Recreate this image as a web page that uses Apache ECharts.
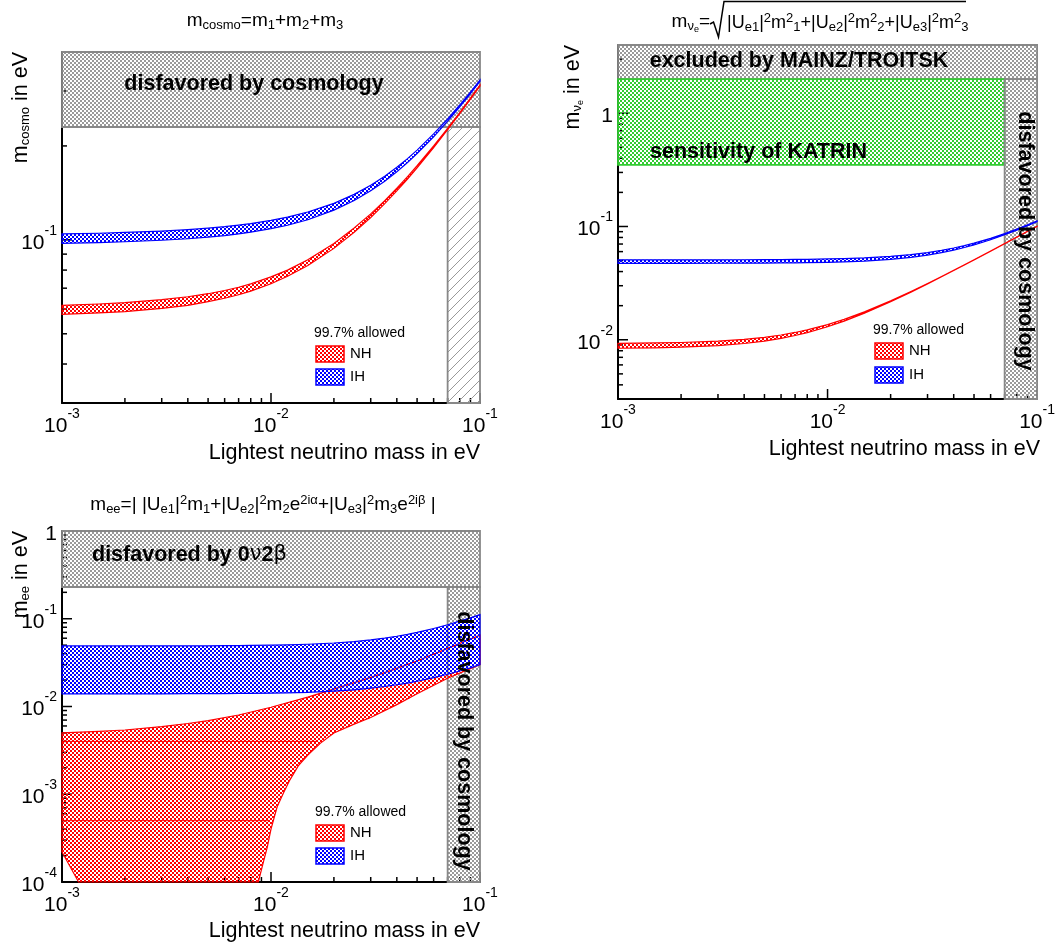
<!DOCTYPE html>
<html><head><meta charset="utf-8">
<script src="https://cdn.jsdelivr.net/npm/echarts@6/dist/echarts.min.js"></script>
<style>html,body{margin:0;padding:0;background:#fff}#c{width:1058px;height:950px}</style>
</head><body><div id="c"></div>
<script>
// ---------------- data ----------------
const xRange = [1e-3, 1e-1];
const yCosmoRange = [0.03, 0.4];
const yBetaRange = [0.003, 4];
const yEeRange = [1e-4, 1];

const cosmoLimit = 0.23;      // disfavored by cosmology (sum of masses)
const lightestLimit = 0.07;   // lightest mass disfavored by cosmology
const mainzLimit = 2;         // MAINZ/TROITSK
const katrinSens = 0.35;      // KATRIN sensitivity
const zeroNuLimit = 0.23;     // 0v2b limit

const mLight = [0.001,0.0015,0.002,0.003,0.004,0.005,0.006,0.007,0.008,0.01,0.012,0.015,0.02,0.025,0.03,0.035,0.04,0.045,0.05,0.06,0.07,0.08,0.09,0.1];

const cosmoNHLow  = [0.0577,0.0583,0.0589,0.0603,0.0617,0.0634,0.0650,0.0667,0.0685,0.0723,0.0764,0.0827,0.0939,0.1057,0.1179,0.1306,0.1436,0.1567,0.1702,0.1975,0.2255,0.2538,0.2824,0.3113];
const cosmoNHHigh = [0.0617,0.0623,0.0629,0.0643,0.0657,0.0672,0.0688,0.0705,0.0723,0.0761,0.0800,0.0863,0.0973,0.1091,0.1211,0.1336,0.1464,0.1595,0.1728,0.1999,0.2277,0.2558,0.2844,0.3131];
const cosmoIHLow  = [0.0975,0.0980,0.0986,0.0997,0.1008,0.1020,0.1032,0.1045,0.1058,0.1086,0.1114,0.1160,0.1245,0.1337,0.1436,0.1542,0.1654,0.1769,0.1889,0.2139,0.2400,0.2669,0.2942,0.3220];
const cosmoIHHigh = [0.1045,0.1050,0.1056,0.1067,0.1078,0.1090,0.1102,0.1115,0.1128,0.1154,0.1182,0.1228,0.1309,0.1399,0.1496,0.1600,0.1708,0.1821,0.1939,0.2185,0.2440,0.2705,0.2976,0.3252];

const betaNHLow  = [0.00842,0.00849,0.00860,0.00888,0.00927,0.00973,0.01028,0.01090,0.01157,0.01303,0.01462,0.01717,0.02167,0.02635,0.03115,0.03598,0.04086,0.04575,0.05067,0.06054,0.07045,0.08038,0.09033,0.10029];
const betaNHHigh = [0.00930,0.00937,0.00946,0.00972,0.01007,0.01051,0.01102,0.01160,0.01223,0.01361,0.01514,0.01761,0.02203,0.02665,0.03139,0.03620,0.04106,0.04595,0.05087,0.06074,0.07065,0.08058,0.09053,0.10049];
const betaIHLow  = [0.04727,0.04729,0.04730,0.04735,0.04742,0.04751,0.04764,0.04776,0.04793,0.04830,0.04875,0.04954,0.05132,0.05345,0.05592,0.05880,0.06191,0.06524,0.06879,0.07636,0.08444,0.09290,0.10164,0.11064];
const betaIHHigh = [0.05073,0.05075,0.05076,0.05081,0.05088,0.05097,0.05108,0.05120,0.05135,0.05170,0.05213,0.05286,0.05452,0.05655,0.05888,0.06162,0.06459,0.06780,0.07121,0.07856,0.08644,0.09472,0.10330,0.11216];

const eeIHLow  = [0.0139,0.0139,0.0139,0.0139,0.0140,0.0140,0.0140,0.0141,0.0141,0.0142,0.0143,0.0145,0.0150,0.0155,0.0162,0.0169,0.0177,0.0185,0.0194,0.0213,0.0233,0.0254,0.0276,0.0300];
const eeIHHigh = [0.0490,0.0490,0.0490,0.0491,0.0492,0.0492,0.0494,0.0495,0.0496,0.0500,0.0504,0.0512,0.0529,0.0550,0.0574,0.0602,0.0632,0.0665,0.0700,0.0775,0.0854,0.0938,0.1025,0.1114];

const eeNHUpperX = [0.001,0.0015,0.002,0.003,0.004,0.005,0.007,0.01,0.015,0.02,0.03,0.04,0.05,0.07,0.1];
const eeNHUpper  = [0.0050,0.0052,0.0054,0.0059,0.0064,0.0069,0.0080,0.0098,0.0128,0.0158,0.0215,0.0272,0.033,0.046,0.065];
const eeNHLowerX = [0.001,0.0012,0.0087,0.0092,0.0096,0.01,0.0107,0.0115,0.0123,0.0135,0.015,0.0172,0.02,0.025,0.03,0.04,0.05,0.07,0.1];
const eeNHLower  = [2.2e-4,1e-4,1e-4,1.7e-4,2.5e-4,4e-4,7.2e-4,1.05e-3,1.45e-3,2.1e-3,2.8e-3,3.8e-3,5.0e-3,6.3e-3,7.5e-3,0.0105,0.014,0.021,0.030];
// inner polygon edges of the NH region visible in the original
const eeNHEdgeX = [[0.001, 0.0168], [0.001, 0.00975]];
const eeNHEdgeY = [[0.004, 0.004], [5e-4, 5e-4]];

const xMajorTicks = [1e-3,1e-2,1e-1];
const xMinorTicks = [2e-3,3e-3,4e-3,5e-3,6e-3,7e-3,8e-3,9e-3,2e-2,3e-2,4e-2,5e-2,6e-2,7e-2,8e-2,9e-2];
const yCosmoMajor = [0.1];
const yCosmoMinor = [0.04,0.05,0.06,0.07,0.08,0.09,0.2,0.3];
const yBetaMajor = [0.01,0.1,1];
const yBetaMinor = [0.004,0.005,0.006,0.007,0.008,0.009,0.02,0.03,0.04,0.05,0.06,0.07,0.08,0.09,0.2,0.3,0.4,0.5,0.6,0.7,0.8,0.9,2,3];
const yEeMajor = [1e-4,1e-3,1e-2,1e-1,1];
const yEeMinor = [2e-4,3e-4,4e-4,5e-4,6e-4,7e-4,8e-4,9e-4,2e-3,3e-3,4e-3,5e-3,6e-3,7e-3,8e-3,9e-3,
                  0.02,0.03,0.04,0.05,0.06,0.07,0.08,0.09,0.2,0.3,0.4,0.5,0.6,0.7,0.8,0.9];

// ---------------- styles ----------------
const FONT = '"Liberation Sans", Arial, Helvetica, sans-serif';
function checker(color, cell) {
  const n = cell * 2;
  const c = document.createElement('canvas'); c.width = n; c.height = n;
  const g = c.getContext('2d'); g.fillStyle = color;
  g.fillRect(0, 0, cell, cell); g.fillRect(cell, cell, cell, cell);
  return { image: c, repeat: 'repeat' };
}
function hatch() {
  const c = document.createElement('canvas'); c.width = 10; c.height = 10;
  const g = c.getContext('2d'); g.strokeStyle = '#999'; g.lineWidth = 1;
  g.beginPath(); g.moveTo(0,10); g.lineTo(10,0); g.moveTo(-5,5); g.lineTo(5,-5); g.moveTo(5,15); g.lineTo(15,5); g.stroke();
  return { image: c, repeat: 'repeat' };
}
const RED = '#ff0000', BLUE = '#0000ff', GREEN = '#33cc33';
const redFill = checker(RED, 2), blueFill = checker(BLUE, 2), greyFill = checker('#9a9a9a', 2),
      greenFill = checker(GREEN, 2), hatchFill = hatch();

function polySeries(gi, xsU, yU, xsL, yL, fill, stroke, z, lw) {
  return {
    type: 'custom', xAxisIndex: gi, yAxisIndex: gi, z: z, silent: true,
    data: [[xsU[0], yU[0]]],
    renderItem: function (params, api) {
      const pts = [];
      for (let i = 0; i < xsU.length; i++) pts.push(api.coord([xsU[i], yU[i]]));
      for (let i = xsL.length - 1; i >= 0; i--) pts.push(api.coord([xsL[i], yL[i]]));
      return { type: 'polygon', shape: { points: pts }, style: { fill: fill, stroke: stroke, lineWidth: lw || 1.2 } };
    }
  };
}
function rectSeries(gi, x0, x1, y0, y1, fill, stroke, z) {
  return polySeries(gi, [x0, x1], [y1, y1], [x0, x1], [y0, y0], fill, stroke, z, 1.8);
}
function segSeries(gi, xsArr, ysArr, color, z) {
  return {
    type: 'custom', xAxisIndex: gi, yAxisIndex: gi, z: z, silent: true,
    data: xsArr.map((xs, i) => [xs[0], ysArr[i][0], xs[1], ysArr[i][1]]),
    renderItem: function (params, api) {
      const a = api.coord([api.value(0), api.value(1)]), b = api.coord([api.value(2), api.value(3)]);
      return { type: 'line', shape: { x1: a[0], y1: a[1], x2: b[0], y2: b[1] }, style: { stroke: color, lineWidth: 1 } };
    }
  };
}
function tickSeries(gi, axis, vals, other, len) {
  return {
    type: 'custom', xAxisIndex: gi, yAxisIndex: gi, z: 1, silent: true,
    data: vals.map(v => axis === 'x' ? [v, other] : [other, v]),
    renderItem: function (params, api) {
      const p = api.coord([api.value(0), api.value(1)]);
      const sh = axis === 'x' ? { x1: p[0], y1: p[1], x2: p[0], y2: p[1] - len }
                              : { x1: p[0], y1: p[1], x2: p[0] + len, y2: p[1] };
      return { type: 'line', shape: sh, style: { stroke: '#000', lineWidth: 1.5 } };
    }
  };
}

const labelRich = {
  b: { fontSize: 21, fontFamily: FONT, color: '#000', lineHeight: 21, padding: [6, 0, 0, 0] },
  s: { fontSize: 14, fontFamily: FONT, color: '#000', lineHeight: 14, padding: [0, 0, 18, 0] }
};
function decadeFmt(v) {
  const l = Math.log10(v), e = Math.round(l);
  if (Math.abs(l - e) > 1e-6) return '';
  if (e === 0) return '{b|1}';
  return '{b|10}{s|' + e + '}';
}
function logAxis(gi, range, isX) {
  return {
    type: 'log', logBase: 10, gridIndex: gi, min: range[0], max: range[1],
    axisLine: { show: true, onZero: false, lineStyle: { color: '#000', width: 2 } },
    axisTick: { show: false }, splitLine: { show: false }, minorTick: { show: false },
    axisLabel: { formatter: decadeFmt, rich: labelRich, margin: isX ? 10 : 5, showMinLabel: true, showMaxLabel: true }
  };
}

const series = [
  // panel 1 regions
  rectSeries(0, xRange[0], xRange[1], cosmoLimit, yCosmoRange[1], greyFill, '#888', 2),
  rectSeries(0, lightestLimit, xRange[1], yCosmoRange[0], cosmoLimit, hatchFill, '#888', 2),
  // panel 2 regions
  rectSeries(1, xRange[0], xRange[1], mainzLimit, yBetaRange[1], greyFill, '#888', 2),
  rectSeries(1, xRange[0], lightestLimit, katrinSens, mainzLimit, greenFill, GREEN, 2),
  rectSeries(1, lightestLimit, xRange[1], yBetaRange[0], mainzLimit, greyFill, '#888', 2),
  // panel 3 regions
  rectSeries(2, xRange[0], xRange[1], zeroNuLimit, yEeRange[1], greyFill, '#888', 2),
  rectSeries(2, lightestLimit, xRange[1], yEeRange[0], zeroNuLimit, greyFill, '#888', 2),
  // bands
  polySeries(0, mLight, cosmoIHHigh, mLight, cosmoIHLow, blueFill, BLUE, 3),
  polySeries(0, mLight, cosmoNHHigh, mLight, cosmoNHLow, redFill, RED, 3),
  polySeries(1, mLight, betaIHHigh, mLight, betaIHLow, blueFill, BLUE, 3),
  polySeries(1, mLight, betaNHHigh, mLight, betaNHLow, redFill, RED, 3),
  polySeries(2, eeNHUpperX, eeNHUpper, eeNHLowerX, eeNHLower, redFill, RED, 3),
  segSeries(2, eeNHEdgeX, eeNHEdgeY, RED, 3),
  polySeries(2, mLight, eeIHHigh, mLight, eeIHLow, blueFill, BLUE, 3),
  // ticks
  tickSeries(0, 'x', xMajorTicks, yCosmoRange[0], 10), tickSeries(0, 'x', xMinorTicks, yCosmoRange[0], 5),
  tickSeries(0, 'y', yCosmoMajor, xRange[0], 10), tickSeries(0, 'y', yCosmoMinor, xRange[0], 5),
  tickSeries(1, 'x', xMajorTicks, yBetaRange[0], 10), tickSeries(1, 'x', xMinorTicks, yBetaRange[0], 5),
  tickSeries(1, 'y', yBetaMajor, xRange[0], 10), tickSeries(1, 'y', yBetaMinor, xRange[0], 5),
  tickSeries(2, 'x', xMajorTicks, yEeRange[0], 10), tickSeries(2, 'x', xMinorTicks, yEeRange[0], 5),
  tickSeries(2, 'y', yEeMajor, xRange[0], 10), tickSeries(2, 'y', yEeMinor, xRange[0], 5)
];

// ---------------- text / legend graphics ----------------
const subR = { s: { fontSize: 13, fontFamily: FONT, padding: [9, 0, 0, 0] },
               ss: { fontSize: 9, fontFamily: FONT, padding: [16, 0, 0, 0] },
               p: { fontSize: 13, fontFamily: FONT, padding: [0, 0, 10, 0] },
               g: { fontSize: 21, fontFamily: 'DejaVu Sans, ' + FONT, fontWeight: 'normal' } };
function T(x, y, text, o) {
  o = o || {};
  const el = { type: 'text', x: x, y: y, z: 100, silent: true,
    style: { text: text, fontFamily: FONT, fontSize: o.size || 19, fontWeight: o.bold ? 'bold' : 'normal',
             fill: '#000', align: o.align || 'center', verticalAlign: 'middle', rich: subR } };
  if (o.rot) el.rotation = o.rot;
  return el;
}
function legendBox(x, y, fill, stroke) {
  return { type: 'rect', z: 100, silent: true, shape: { x: x, y: y, width: 28, height: 16 },
           style: { fill: fill, stroke: stroke, lineWidth: 1.5 } };
}
const AXT = 'Lightest neutrino mass in eV';
const graphics = [
  // titles
  T(265, 21, 'm{s|cosmo}=m{s|1}+m{s|2}+m{s|3}'),
  T(710, 22, 'm{s|ν}{ss|e}=', { align: 'right' }),
  { type: 'polyline', z: 100, silent: true,
    shape: { points: [[710, 24], [713.5, 22], [718.5, 37], [724, 1.5], [966, 1.5]] },
    style: { stroke: '#000', lineWidth: 1.5, fill: null } },
  T(727, 23, '|U{s|e1}|{p|2}m{p|2}{s|1}+|U{s|e2}|{p|2}m{p|2}{s|2}+|U{s|e3}|{p|2}m{p|2}{s|3}', { align: 'left', size: 18 }),
  T(263, 505, 'm{s|ee}=| |U{s|e1}|{p|2}m{s|1}+|U{s|e2}|{p|2}m{s|2}e{p|2iα}+|U{s|e3}|{p|2}m{s|3}e{p|2iβ} |'),
  // axis titles
  T(21, 52, 'm{s|cosmo} in eV', { size: 21.5, align: 'right', rot: Math.PI / 2 }),
  T(573, 45, 'm{s|ν}{ss|e} in eV', { size: 21.5, align: 'right', rot: Math.PI / 2 }),
  T(21, 531, 'm{s|ee} in eV', { size: 21.5, align: 'right', rot: Math.PI / 2 }),
  T(480, 453, AXT, { size: 21.5, align: 'right' }),
  T(1040, 449, AXT, { size: 21.5, align: 'right' }),
  T(480, 931, AXT, { size: 21.5, align: 'right' }),
  // region labels
  T(254, 84, 'disfavored by cosmology', { size: 21.5, bold: true }),
  T(799, 61, 'excluded by MAINZ/TROITSK', { size: 21.5, bold: true }),
  T(650, 152, 'sensitivity of KATRIN', { size: 21.5, bold: true, align: 'left' }),
  T(92, 555, 'disfavored by 0{g|ν}2{g|β}', { size: 21.5, bold: true, align: 'left' }),
  T(1025, 241, 'disfavored by cosmology', { size: 21.5, bold: true, rot: -Math.PI / 2 }),
  T(464, 741, 'disfavored by cosmology', { size: 21.5, bold: true, rot: -Math.PI / 2 }),
  // legends
  T(314, 333, '99.7% allowed', { size: 14, align: 'left' }),
  legendBox(316, 346, redFill, RED), T(350, 354, 'NH', { size: 15, align: 'left' }),
  legendBox(316, 369, blueFill, BLUE), T(350, 377, 'IH', { size: 15, align: 'left' }),
  T(873, 330, '99.7% allowed', { size: 14, align: 'left' }),
  legendBox(875, 343, redFill, RED), T(909, 351, 'NH', { size: 15, align: 'left' }),
  legendBox(875, 367, blueFill, BLUE), T(909, 375, 'IH', { size: 15, align: 'left' }),
  T(315, 812, '99.7% allowed', { size: 14, align: 'left' }),
  legendBox(316, 825, redFill, RED), T(350, 833, 'NH', { size: 15, align: 'left' }),
  legendBox(316, 848, blueFill, BLUE), T(350, 856, 'IH', { size: 15, align: 'left' })
];

const chart = echarts.init(document.getElementById('c'), null, { renderer: 'canvas' });
chart.setOption({
  backgroundColor: '#fff',
  animation: false,
  grid: [
    { left: 62, top: 52, width: 418, height: 351 },
    { left: 618, top: 45, width: 422, height: 354 },
    { left: 62, top: 531, width: 418, height: 351 }
  ],
  xAxis: [logAxis(0, xRange, true), logAxis(1, xRange, true), logAxis(2, xRange, true)],
  yAxis: [logAxis(0, yCosmoRange, false), logAxis(1, yBetaRange, false), logAxis(2, yEeRange, false)],
  series: series,
  graphic: graphics
});
</script></body></html>
